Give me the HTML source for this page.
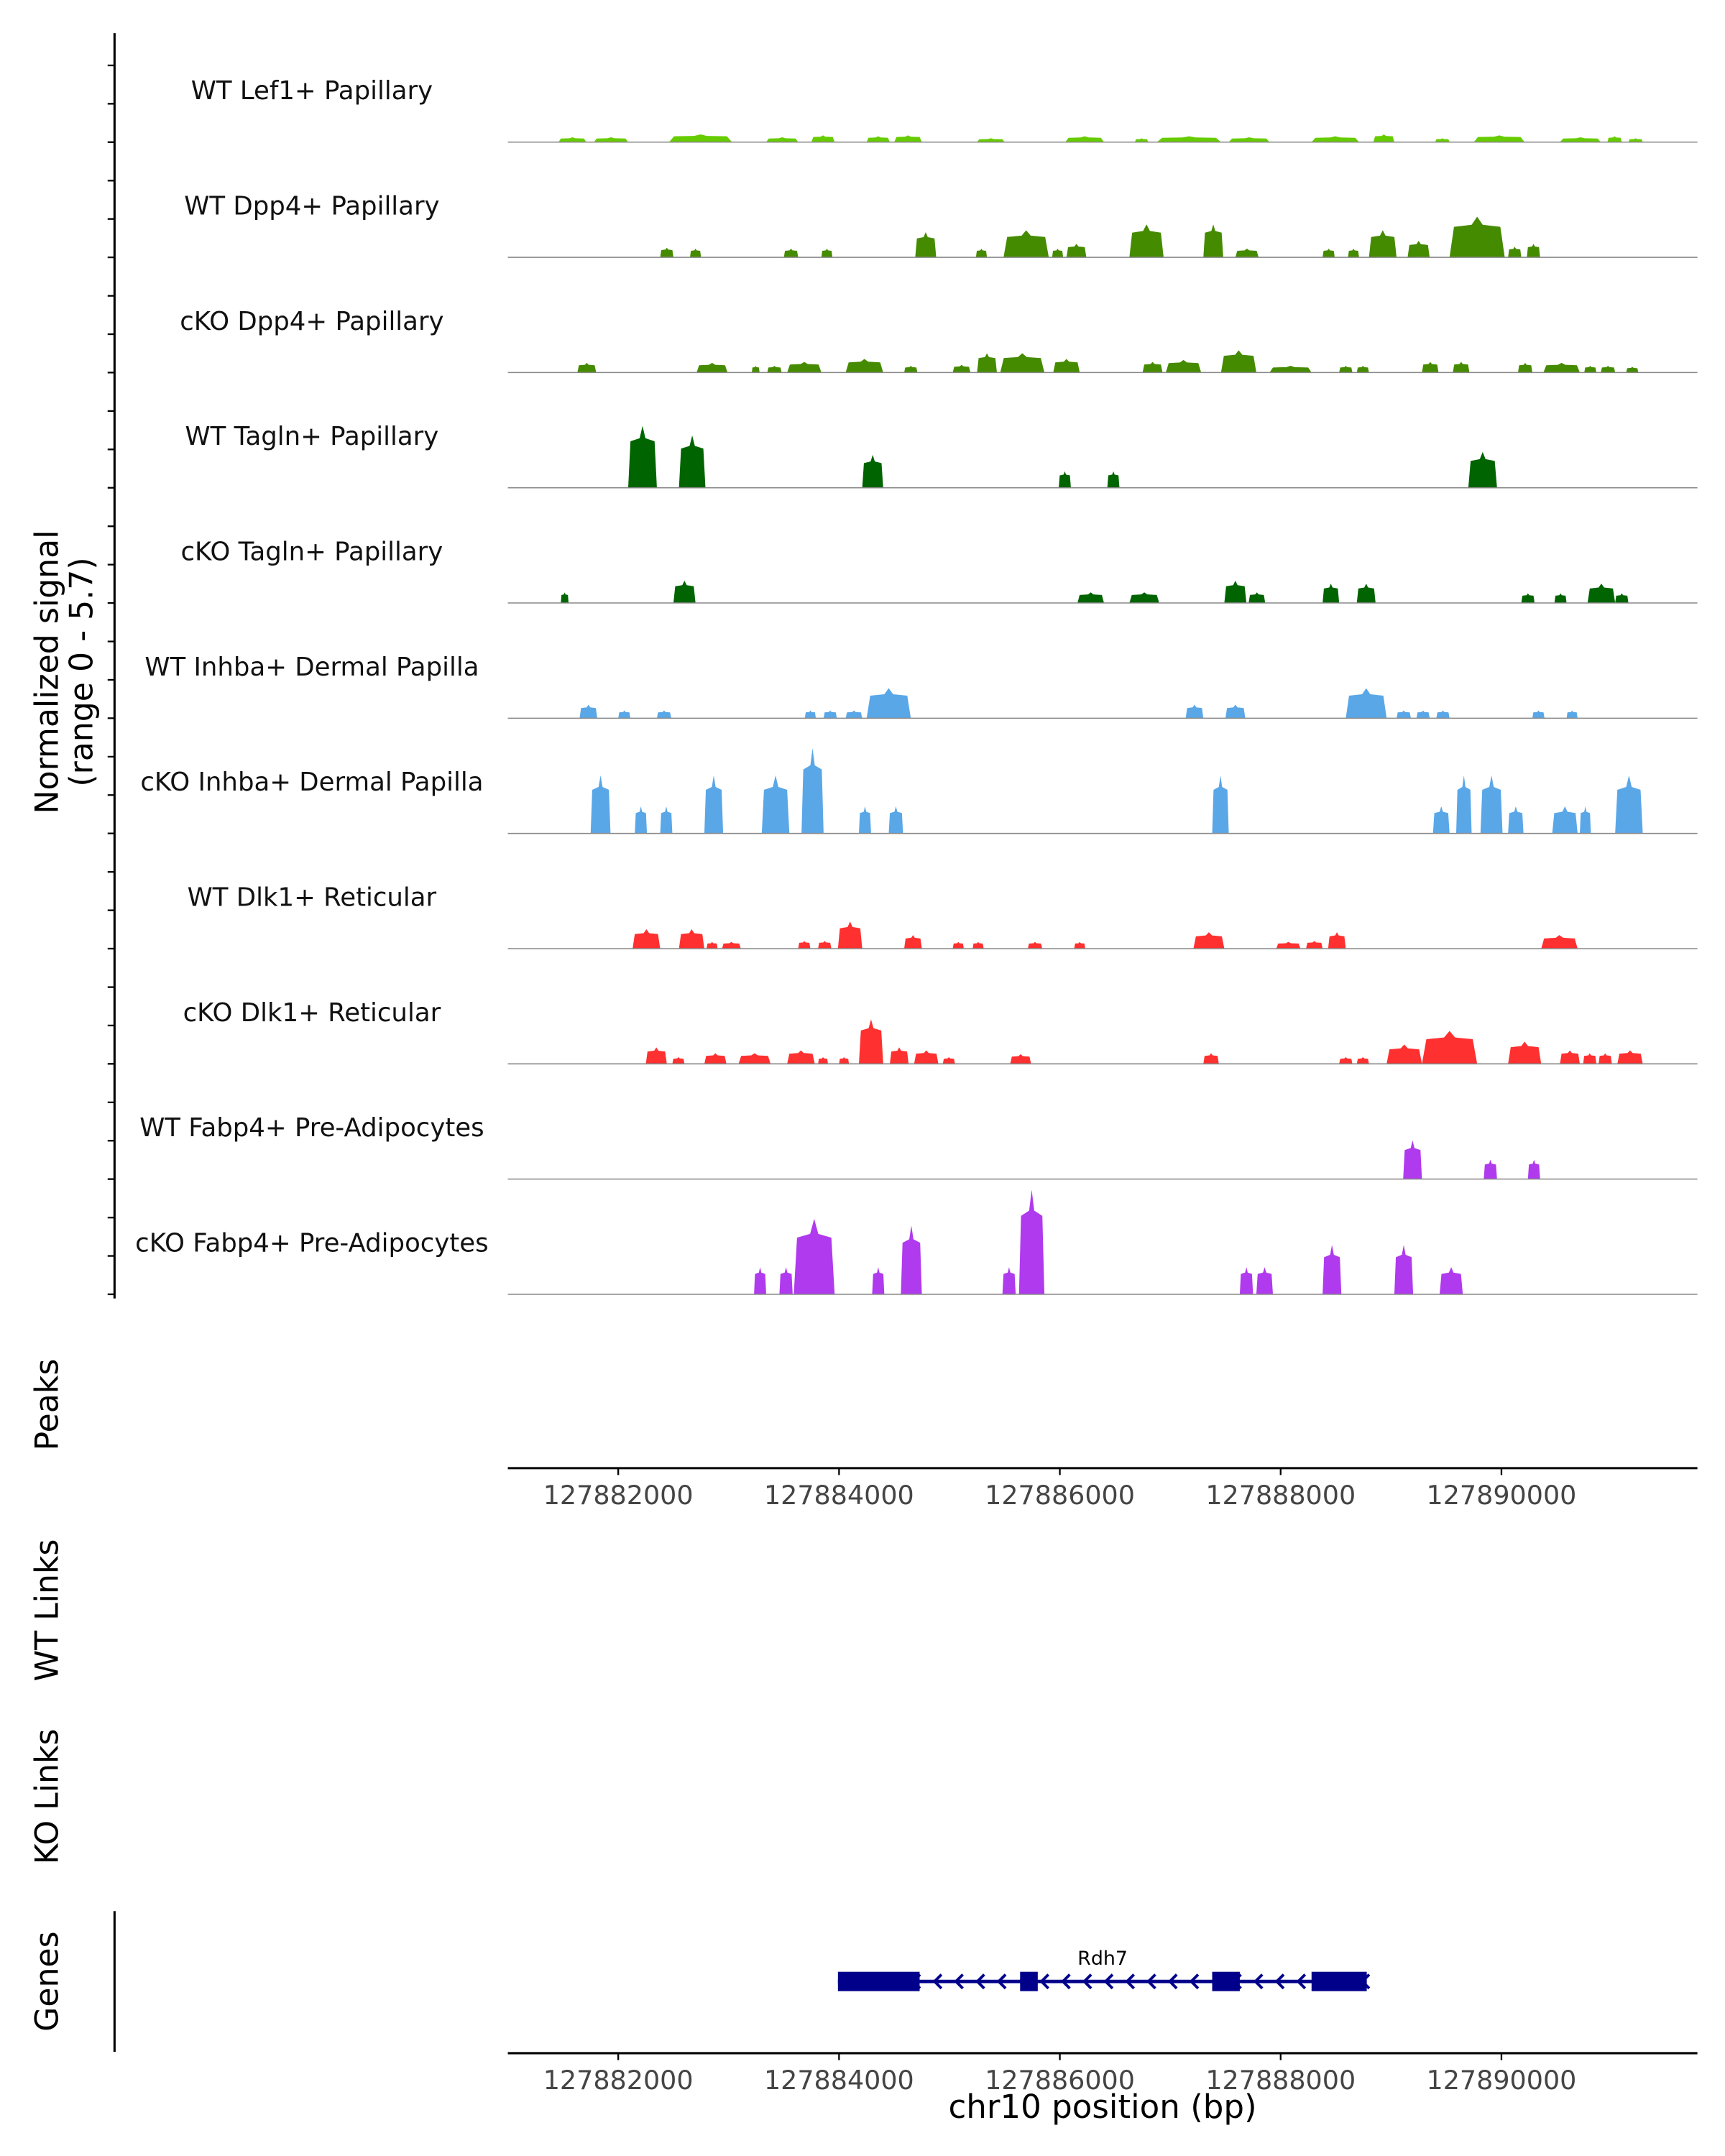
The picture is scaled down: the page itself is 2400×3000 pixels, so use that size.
<!DOCTYPE html>
<html><head><meta charset="utf-8"><style>
html,body{margin:0;padding:0;background:#fff;}
svg{display:block;font-family:"DejaVu Sans","Liberation Sans",sans-serif;}
</style></head><body>
<svg id="chart" width="2400" height="3000" viewBox="0 0 1250 1562.5" xmlns="http://www.w3.org/2000/svg">
<g id="g"></g>
</svg>
<script>
// ---- data (positions in kb after 127880000, signal values) ----
const trackNames = ["WT Lef1+ Papillary","WT Dpp4+ Papillary","cKO Dpp4+ Papillary","WT Tagln+ Papillary","cKO Tagln+ Papillary","WT Inhba+ Dermal Papilla","cKO Inhba+ Dermal Papilla","WT Dlk1+ Reticular","cKO Dlk1+ Reticular","WT Fabp4+ Pre-Adipocytes","cKO Fabp4+ Pre-Adipocytes"];
const trackColors = ["#66cc00","#458b00","#458b00","#006400","#006400","#5aa7e8","#5aa7e8","#ff3030","#ff3030","#b03aee","#b03aee"];
const t1 = [[1.46,1.71,0.25],[1.78,2.09,0.25],[2.46,3.03,0.4],[3.34,3.63,0.25],[3.75,3.96,0.35],[4.25,4.46,0.3],[4.5,4.75,0.35],[5.25,5.5,0.2],[6.05,6.4,0.3],[6.68,6.8,0.2],[6.88,7.46,0.3],[7.53,7.9,0.25],[8.28,8.71,0.3],[8.84,9.03,0.4],[9.4,9.53,0.2],[9.75,10.21,0.35],[10.53,10.9,0.25],[10.96,11.09,0.3],[11.15,11.28,0.2]];
const t2 = [[2.38,2.5,0.5],[2.65,2.75,0.45],[3.5,3.63,0.45],[3.84,3.94,0.45],[4.69,4.88,1.3],[5.24,5.34,0.45],[5.49,5.9,1.4],[5.93,6.03,0.45],[6.06,6.24,0.7],[6.63,6.94,1.7],[7.3,7.48,1.7],[7.59,7.8,0.45],[8.38,8.49,0.45],[8.61,8.71,0.45],[8.8,9.05,1.4],[9.15,9.35,0.85],[9.53,10.03,2.1],[10.06,10.18,0.55],[10.23,10.35,0.7]];
const t3 = [[1.63,1.8,0.5],[2.71,2.99,0.5],[3.21,3.28,0.35],[3.35,3.48,0.35],[3.53,3.84,0.55],[4.06,4.4,0.7],[4.59,4.71,0.35],[5.03,5.19,0.4],[5.25,5.43,1.0],[5.46,5.86,1.0],[5.94,6.18,0.7],[6.75,6.93,0.55],[6.96,7.28,0.65],[7.46,7.78,1.15],[7.9,8.28,0.35],[8.53,8.65,0.35],[8.69,8.8,0.35],[9.28,9.43,0.55],[9.56,9.71,0.55],[10.15,10.28,0.5],[10.38,10.71,0.5],[10.75,10.86,0.35],[10.9,11.03,0.35],[11.13,11.24,0.3]];
const t4 = [[2.09,2.35,3.2],[2.55,2.79,2.7],[4.21,4.4,1.7],[5.99,6.1,0.85],[6.43,6.54,0.85],[9.7,9.96,1.85]];
const t5 = [[1.48,1.55,0.55],[2.5,2.7,1.15],[6.16,6.4,0.55],[6.63,6.9,0.55],[7.49,7.69,1.15],[7.71,7.86,0.55],[8.38,8.53,1.0],[8.69,8.86,1.0],[10.18,10.3,0.5],[10.48,10.59,0.5],[10.78,11.03,1.0],[11.03,11.15,0.5]];
const t6 = [[1.65,1.81,0.7],[2.0,2.11,0.4],[2.35,2.48,0.4],[3.69,3.79,0.4],[3.86,3.98,0.4],[4.06,4.21,0.4],[4.25,4.65,1.55],[7.14,7.3,0.7],[7.5,7.68,0.7],[8.59,8.96,1.55],[9.05,9.18,0.4],[9.23,9.35,0.4],[9.41,9.53,0.4],[10.28,10.39,0.4],[10.59,10.69,0.4]];
const t7 = [[1.75,1.93,3.0],[2.15,2.26,1.4],[2.38,2.49,1.4],[2.78,2.95,3.0],[3.3,3.55,3.0],[3.66,3.86,4.4],[4.18,4.29,1.4],[4.45,4.58,1.4],[7.38,7.53,3.0],[9.38,9.53,1.4],[9.59,9.73,3.0],[9.81,10.01,3.0],[10.06,10.2,1.4],[10.46,10.69,1.4],[10.71,10.81,1.4],[11.03,11.28,3.0]];
const t8 = [[2.13,2.38,1.0],[2.55,2.78,1.0],[2.8,2.9,0.35],[2.94,3.11,0.35],[3.63,3.74,0.4],[3.81,3.93,0.4],[3.99,4.21,1.4],[4.59,4.75,0.7],[5.03,5.13,0.35],[5.21,5.31,0.35],[5.71,5.84,0.35],[6.13,6.23,0.35],[7.21,7.49,0.85],[7.96,8.18,0.35],[8.23,8.38,0.4],[8.43,8.59,0.85],[10.36,10.69,0.7]];
const t9 = [[2.25,2.44,0.85],[2.49,2.6,0.35],[2.78,2.98,0.55],[3.09,3.38,0.55],[3.53,3.78,0.7],[3.81,3.9,0.35],[4.0,4.09,0.35],[4.18,4.4,2.3],[4.46,4.63,0.85],[4.68,4.9,0.7],[4.94,5.05,0.35],[5.55,5.74,0.5],[7.3,7.44,0.55],[8.53,8.65,0.35],[8.69,8.8,0.35],[8.96,9.28,1.0],[9.28,9.78,1.7],[10.06,10.36,1.15],[10.53,10.71,0.7],[10.74,10.86,0.55],[10.88,11.0,0.55],[11.05,11.28,0.7]];
const t10 = [[9.11,9.28,2.0],[9.84,9.96,1.0],[10.24,10.35,1.0]];
const t11 = [[3.23,3.34,1.4],[3.46,3.58,1.4],[3.59,3.96,3.9],[4.3,4.41,1.4],[4.56,4.75,3.55],[5.48,5.6,1.4],[5.63,5.86,5.4],[7.63,7.75,1.4],[7.78,7.93,1.4],[8.38,8.55,2.55],[9.03,9.2,2.55],[9.44,9.65,1.4]];
const tracks = [t1,t2,t3,t4,t5,t6,t7,t8,t9,t10,t11];
const xTicks = [127882000,127884000,127886000,127888000,127890000];
const geneExons = [[3.99,4.73],[5.64,5.80],[7.38,7.63],[8.28,8.78]];
const geneSpan = [3.99,8.78];
const yMax = 5.7;

// ---- scales ----
const NS="http://www.w3.org/2000/svg";
const G=document.getElementById('g');
const X0=368, X1=1230;
function xkb(kb){return 448+(kb-2)*80;}
function xbp(bp){return xkb((bp-127880000)/1000);}
const trackH=83.5, firstBase=103;
function base(i){return firstBase+i*trackH;}
function ys(v,i){return base(i)-v/yMax*80;}
function el(tag,attrs,parent){const e=document.createElementNS(NS,tag);for(const k in attrs)e.setAttribute(k,attrs[k]);(parent||G).appendChild(e);return e;}
function txt(s,attrs,parent){const e=el('text',attrs,parent);e.textContent=s;return e;}

// left axis
const ax=el('line',{x1:83,y1:24,x2:83,y2:941,stroke:'#000','stroke-width':1.6});


for(let i=0;i<11;i++){for(let k=0;k<3;k++){const y=base(i)-k*27.8;
 const t=el('line',{x1:78,y1:y,x2:83,y2:y,stroke:'#000','stroke-width':1.2});
 
 }}
const yt=txt('Normalized signal',{x:0,y:0,'font-size':23,'text-anchor':'middle',transform:'translate(42,487) rotate(-90)'});


const yt2=txt('(range 0 - 5.7)',{x:0,y:0,'font-size':23,'text-anchor':'middle',transform:'translate(67,487) rotate(-90)'});



// tracks
tracks.forEach((d,i)=>{
 const g=el('g',{});
 
 
 const b=base(i);
 d.forEach(s=>{
  const xa=xkb(s[0]), xb=xkb(s[1]), w=xb-xa;
  const pts=[[xa,b],[xa+w*0.08,ys(s[2]*0.75,i)],[xa+w*0.4,ys(s[2]*0.8,i)],[xa+w*0.5,ys(s[2],i)],[xa+w*0.6,ys(s[2]*0.8,i)],[xb-w*0.08,ys(s[2]*0.75,i)],[xb,b]];
  const p=el('polygon',{points:pts.map(q=>q.join(',')).join(' '),fill:trackColors[i]},g);
  
  
 });
 el('line',{x1:X0,y1:b,x2:X1,y2:b,stroke:'#888','stroke-width':0.8},g);
 const lb=txt(trackNames[i],{x:226,y:b-31,'font-size':18.5,'text-anchor':'middle',fill:'#111'});
 
 
});

// x axes
function xAxis(y,name){
 const g=el('g',{});
 
 
 el('line',{x1:X0,y1:y,x2:X1,y2:y,stroke:'#000','stroke-width':1.6},g);
 xTicks.forEach(t=>{const x=xbp(t);
  el('line',{x1:x,y1:y,x2:x,y2:y+5,stroke:'#000','stroke-width':1.2},g);
  const l=txt(String(t),{x:x,y:y+26,'font-size':19,'text-anchor':'middle',fill:'#444'},g);
  
  });
}
xAxis(1064,'peaks-x-axis');
xAxis(1488,'genes-x-axis');
const xt=txt('chr10 position (bp)',{x:799,y:1535,'font-size':23.5,'text-anchor':'middle'});



// panel titles
[['Peaks',1018,'peaks-title'],['WT Links',1167,'wt-links-title'],['KO Links',1302,'ko-links-title'],['Genes',1436,'genes-title']].forEach(a=>{
 const t=txt(a[0],{x:0,y:0,'font-size':23,'text-anchor':'middle',transform:'translate(42,'+a[1]+') rotate(-90)'});
 
 
});
const gax=el('line',{x1:83,y1:1385,x2:83,y2:1487,stroke:'#000','stroke-width':1.6});



// gene model
const gg=el('g',{});


const gy=1436;
el('line',{x1:xkb(geneSpan[0]),y1:gy,x2:xkb(geneSpan[1]),y2:gy,stroke:'#00008b','stroke-width':2.5},gg);
for(let x=xkb(geneSpan[0])+8;x<xkb(geneSpan[1]);x+=15.5){
 el('polyline',{points:(x+5)+','+(gy-5)+' '+x+','+gy+' '+(x+5)+','+(gy+5),fill:'none',stroke:'#00008b','stroke-width':2},gg);
}
geneExons.forEach(e=>{
 const r=el('rect',{x:xkb(e[0]),y:gy-7,width:xkb(e[1])-xkb(e[0]),height:14,fill:'#00008b'},gg);
 
 
});
const gl=txt('Rdh7',{x:799,y:1424,'font-size':14,'text-anchor':'middle'},gg);


</script>
</body></html>
